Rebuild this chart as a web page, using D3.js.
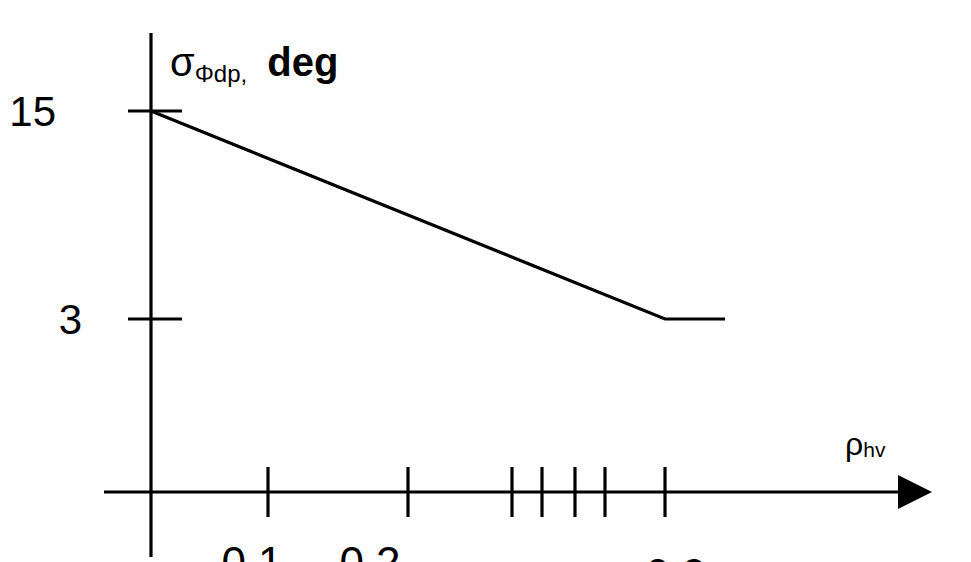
<!DOCTYPE html>
<html>
<head>
<meta charset="utf-8">
<script src="https://cdn.jsdelivr.net/npm/d3@7/dist/d3.min.js"></script>
<style>
  html, body { margin: 0; padding: 0; background: #fff; }
  svg { display: block; font-family: "Liberation Sans", Arial, sans-serif; }
</style>
</head>
<body>
<svg id="chart" width="971" height="562"></svg>
<script>
// Phase standard deviation threshold vs. co-polar correlation coefficient
const xTicks = [0, 0.1, 0.2, 0.5, 0.6, 0.7, 0.8, 0.9, 1.0];
const xTickLabels = ["0.1", "0.2", "0.9"];
const yTicks = [15, 3];
const rhoValues = [0, 0.9, 1.0];
const sigmaValues = [15, 3, 3];

const svg = d3.select("#chart");

// Schematic (non-uniform) ρhv axis: piecewise linear scale
const x = d3.scaleLinear()
  .domain([0, 0.1, 0.2, 0.5, 0.6, 0.7, 0.8, 0.9, 1.0])
  .range([151, 268, 408, 512, 542, 575, 605, 665, 725]);

const y = d3.scaleLinear().domain([3, 15]).range([319, 111]);

const axisY = 492;      // horizontal axis position
const axisX = x(0);     // vertical axis position
const stroke = "#000";

// vertical axis
svg.append("line")
  .attr("x1", axisX).attr("x2", axisX)
  .attr("y1", 33).attr("y2", 557)
  .attr("stroke", stroke).attr("stroke-width", 3.2);

// horizontal axis with arrow head
svg.append("line")
  .attr("x1", 104).attr("x2", 905)
  .attr("y1", axisY).attr("y2", axisY)
  .attr("stroke", stroke).attr("stroke-width", 3.2);
svg.append("path")
  .attr("d", `M898,475 L932,${axisY} L898,509 Z`)
  .attr("fill", stroke);

// x ticks (skip the origin and the line end)
const xt = xTicks.filter(v => v > 0 && v < 1.0);
svg.selectAll(".xtick").data(xt).enter().append("line")
  .attr("class", "xtick")
  .attr("x1", d => x(d)).attr("x2", d => x(d))
  .attr("y1", axisY - 25).attr("y2", axisY + 25)
  .attr("stroke", stroke).attr("stroke-width", 3.2);

// x tick labels (running off the lower edge)
const labelVals = [0.1, 0.2, 0.9];
const labelDx = [-16, -38, 11];
const labelBase = [578, 578, 590];
svg.selectAll(".xlab").data(labelVals).enter().append("text")
  .attr("class", "xlab")
  .attr("x", (d, i) => x(d) + labelDx[i])
  .attr("y", (d, i) => labelBase[i])
  .attr("text-anchor", "middle")
  .attr("font-size", 44)
  .text((d, i) => xTickLabels[i]);

// y ticks
svg.selectAll(".ytick").data(yTicks).enter().append("line")
  .attr("class", "ytick")
  .attr("x1", axisX - 23).attr("x2", axisX + 31)
  .attr("y1", d => y(d)).attr("y2", d => y(d))
  .attr("stroke", stroke).attr("stroke-width", 3.2);

const yLabRight = { 15: 56, 3: 82 };
svg.selectAll(".ylab").data(yTicks).enter().append("text")
  .attr("class", "ylab")
  .attr("x", d => yLabRight[d])
  .attr("y", d => y(d) + 15)
  .attr("text-anchor", "end")
  .attr("font-size", 42)
  .text(d => d);

// threshold curve
const line = d3.line().x(d => x(d[0])).y(d => y(d[1]));
svg.append("path")
  .datum(rhoValues.map((r, i) => [r, sigmaValues[i]]))
  .attr("d", line)
  .attr("fill", "none")
  .attr("stroke", stroke)
  .attr("stroke-width", 3.2);

// y axis title
const yt = svg.append("text").attr("x", 170).attr("y", 76);
yt.append("tspan").attr("font-size", 40).text("σ");
yt.append("tspan").attr("font-size", 24).attr("dy", 6).text("Φdp,");
yt.append("tspan").attr("font-size", 40).attr("font-weight", "bold")
  .attr("dy", -6).attr("dx", 20).text("deg");

// x axis title
const xtl = svg.append("text").attr("x", 845).attr("y", 455);
xtl.append("tspan").attr("font-size", 32).text("ρ");
xtl.append("tspan").attr("font-size", 21).attr("dy", 2).text("hv");
</script>
</body>
</html>
